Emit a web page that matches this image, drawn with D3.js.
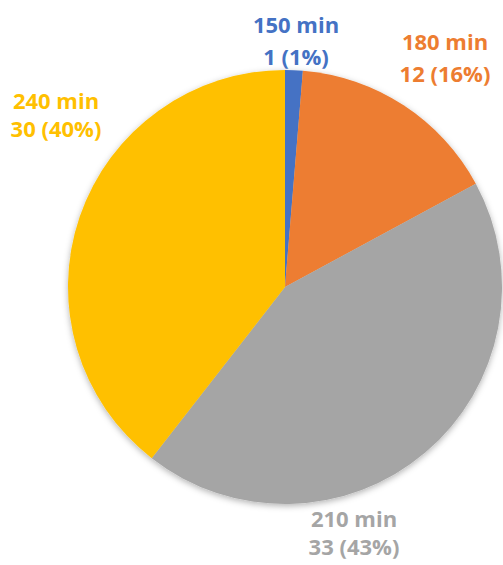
<!DOCTYPE html>
<html>
<head>
<meta charset="utf-8">
<script src="https://cdn.jsdelivr.net/npm/d3@7"></script>
<style>
  html, body { margin: 0; padding: 0; background: #fff; }
  svg { display: block; }
  text { font-family: "Open Sans", sans-serif; font-weight: 700; }
</style>
</head>
<body>
<svg id="chart" width="503" height="565"></svg>
<script>
// Session lengths and their counts
const categories = ["150 min", "180 min", "210 min", "240 min"];
const counts = [1, 12, 33, 30];
const colors = ["#4472C4", "#ED7D31", "#A5A5A5", "#FFC000"];

// Label anchor points (centre x, first-line baseline y, line pitch)
const labelLayout = [
  { x: 296, y: 33, pitch: 32 },
  { x: 445, y: 50, pitch: 32 },
  { x: 354, y: 527, pitch: 28 },
  { x: 56,  y: 109, pitch: 28 }
];

const width = 503, height = 565;
const cx = 285, cy = 287, radius = 217;

const svg = d3.select("#chart");

const defs = svg.append("defs");
const shadow = defs.append("filter")
  .attr("id", "pieShadow")
  .attr("x", "-20%").attr("y", "-20%")
  .attr("width", "140%").attr("height", "140%");
shadow.append("feDropShadow")
  .attr("dx", 0).attr("dy", 2)
  .attr("stdDeviation", 3)
  .attr("flood-color", "#000")
  .attr("flood-opacity", 0.3);

// Whole-number percentages that add up to 100 (largest remainder)
const total = d3.sum(counts);
const raw = counts.map(v => v / total * 100);
const pct = raw.map(Math.floor);
let short = 100 - d3.sum(pct);
raw.map((r, i) => ({ i, rem: r - Math.floor(r) }))
  .sort((a, b) => b.rem - a.rem)
  .slice(0, short)
  .forEach(o => { pct[o.i] += 1; });

const data = categories.map((c, i) => ({
  name: c, value: counts[i], pct: pct[i], color: colors[i], layout: labelLayout[i]
}));

const pie = d3.pie().value(d => d.value).sort(null).startAngle(0).endAngle(2 * Math.PI);
const arc = d3.arc().innerRadius(0).outerRadius(radius);

const g = svg.append("g")
  .attr("transform", `translate(${cx},${cy})`)
  .attr("filter", "url(#pieShadow)");

g.selectAll("path")
  .data(pie(data))
  .join("path")
  .attr("d", arc)
  .attr("fill", d => d.data.color);

const labels = svg.append("g")
  .selectAll("text")
  .data(data)
  .join("text")
  .attr("text-anchor", "middle")
  .attr("font-size", 22)
  .attr("fill", d => d.color);

labels.append("tspan")
  .attr("x", d => d.layout.x)
  .attr("y", d => d.layout.y)
  .text(d => d.name);

labels.append("tspan")
  .attr("x", d => d.layout.x)
  .attr("y", d => d.layout.y + d.layout.pitch)
  .text(d => `${d.value} (${d.pct}%)`);
</script>
</body>
</html>
